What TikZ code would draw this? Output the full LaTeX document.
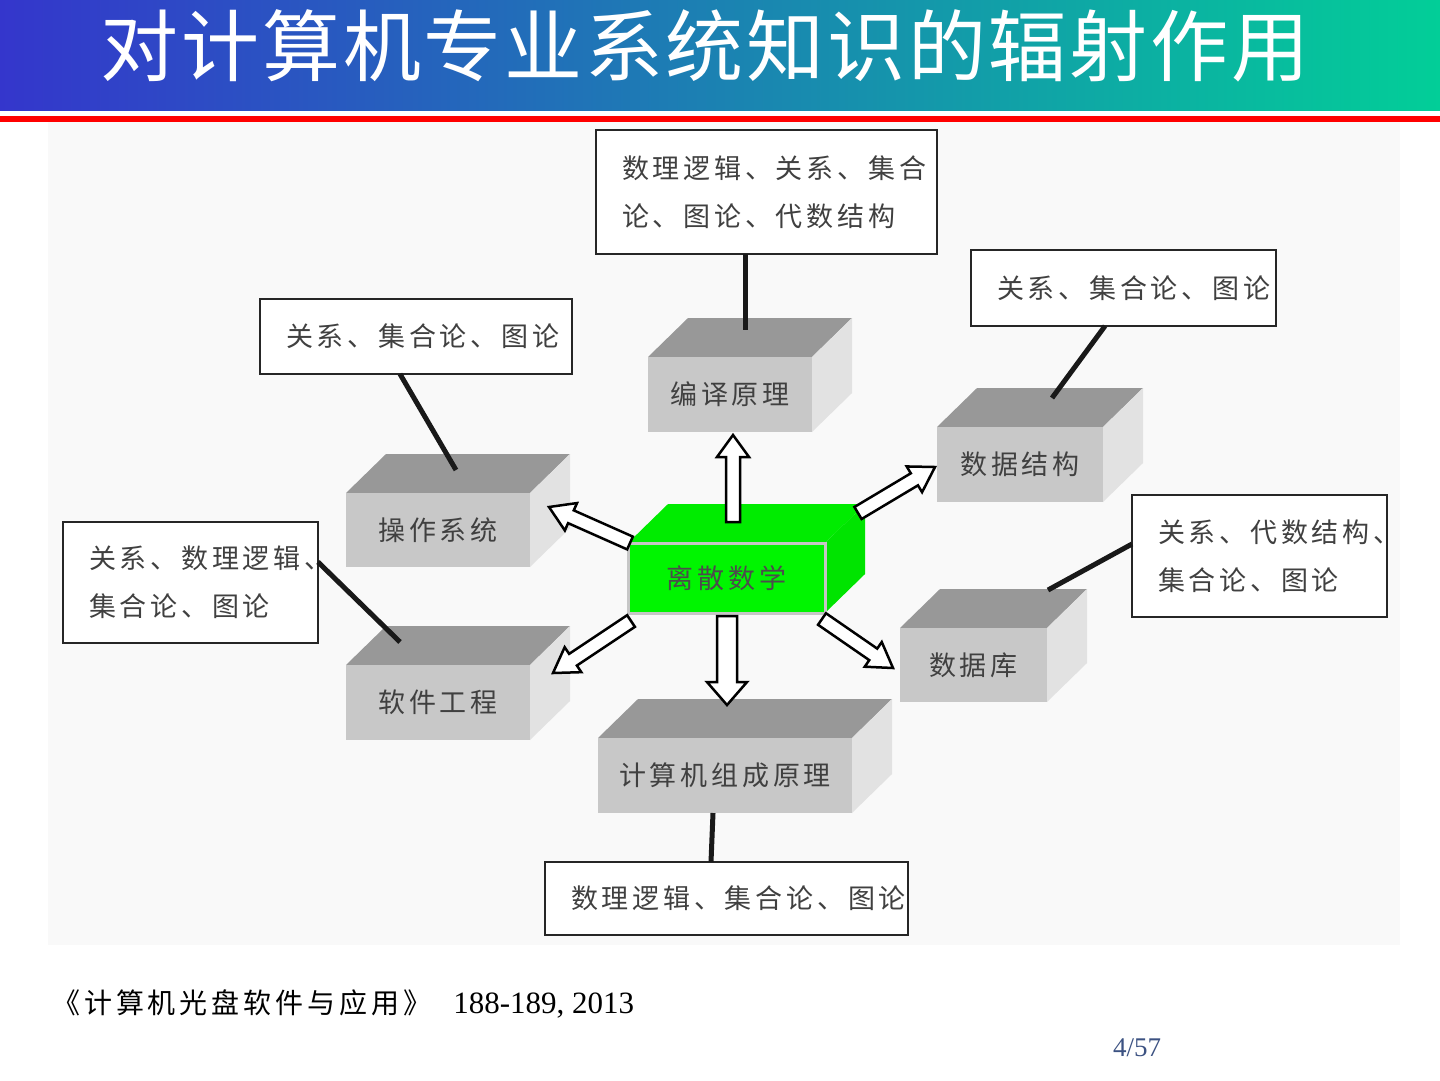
\documentclass[tikz,border=0pt]{standalone}
\usepackage{fontspec}
\setmainfont{Liberation Serif}
\newfontfamily\cjk{Noto Sans CJK SC}
\newfontfamily\cjkbox[LetterSpace=14]{Noto Sans CJK SC}
\newfontfamily\cjktitle[LetterSpace=3.5]{Noto Sans CJK SC}
\usetikzlibrary{calc}
\definecolor{titleL}{RGB}{52,54,204}
\definecolor{titleR}{RGB}{2,206,152}
\definecolor{cubeTop}{RGB}{152,152,152}
\definecolor{cubeFront}{RGB}{200,200,200}
\definecolor{cubeSide}{RGB}{226,226,226}
\definecolor{greenFront}{RGB}{0,245,0}
\definecolor{greenTop}{RGB}{0,236,0}
\definecolor{greenSide}{RGB}{0,228,0}
\definecolor{pageno}{RGB}{60,82,130}
\definecolor{panel}{RGB}{249,249,249}
\tikzset{
  link/.style={line width=5pt, draw=black!90},
  tbox/.style={draw=black!85, line width=2.5pt, fill=white, inner xsep=26pt, inner ysep=0pt,
    align=left, text=black!75, font=\cjkbox\fontsize{27}{48}\selectfont, outer sep=0pt},
  cubefront/.style={fill=cubeFront, inner sep=0pt, outer sep=0pt, text=black!75,
    font=\cjkbox\fontsize{27}{32}\selectfont},
  greenfront/.style={fill=greenFront, draw=gray!45, line width=3pt, inner sep=0pt, outer sep=0pt,
    text=black!70, font=\cjkbox\fontsize{27}{32}\selectfont},
  blockarr/.style={draw=black, fill=white, line width=2.5pt, line join=miter},
}
% text box: name, x1, y1, x2, y2, text
\newcommand\tbox[6]{%
  \pgfmathsetmacro\bw{#4-#2}\pgfmathsetmacro\bh{#5-#3}\pgfmathsetmacro\tw{#4-#2-52}%
  \node[tbox, minimum width=\bw pt, minimum height=\bh pt, text width=\tw pt] (#1)
    at ({(#2+#4)/2},{(#3+#5)/2}) {#6};}
% cube: name, x1, y1, x2, y2, top colour, side colour, front style, text
\newcommand\cubebox[9]{%
  \fill[#6] (#2,#3) -- ({#2+40},{#3-39}) -- ({#4+40},{#3-39}) -- (#4,#3) -- cycle;
  \fill[#7] (#4,#3) -- ({#4+40},{#3-39}) -- ({#4+40},{#5-39}) -- (#4,#5) -- cycle;
  \pgfmathsetmacro\cw{#4-#2}\pgfmathsetmacro\ch{#5-#3}%
  \node[#8, minimum width=\cw pt, minimum height=\ch pt] (#1) at ({(#2+#4)/2},{(#3+#5)/2}) {#9};}
% hollow block arrow: from, to, shaft half width, head half width, head length
\newcommand\blockarrow[5]{%
  \draw[blockarr] let \p1=(#1), \p2=(#2), \n1={atan2(\y2-\y1,\x2-\x1)}, \n2={veclen(\x2-\x1,\y2-\y1)} in
    ($(\p1)+({\n1+90}:#3)$) -- ($(\p1)+(\n1:{\n2-#5})+({\n1+90}:#3)$)
    -- ($(\p1)+(\n1:{\n2-#5})+({\n1+90}:#4)$) -- (\p2)
    -- ($(\p1)+(\n1:{\n2-#5})+({\n1-90}:#4)$) -- ($(\p1)+(\n1:{\n2-#5})+({\n1-90}:#3)$)
    -- ($(\p1)+({\n1-90}:#3)$) -- cycle;}
\begin{document}
\begin{tikzpicture}[x=1pt,y=-1pt]
\useasboundingbox (0,0) rectangle (1440,1080);
\fill[white] (0,0) rectangle (1440,1080);
% title bar
\shade[left color=titleL, right color=titleR] (0,0) rectangle (1440,110);
\fill[red] (0,116) rectangle (1440,122);
\node[font=\cjktitle\fontsize{78}{90}\selectfont, text=white, inner sep=0pt] (title) at (705,46)
  {对计算机专业系统知识的辐射作用};
% picture panel
\fill[panel] (48,122) rectangle (1400,945);

% text boxes
\tbox{t1}{596}{130}{937}{254}{数理逻辑、关系、集合\\论、图论、代数结构}
\tbox{t2}{260}{299}{572}{374}{关系、集合论、图论}
\tbox{t3}{971}{250}{1276}{326}{关系、集合论、图论}
\tbox{t4}{63}{522}{318}{643}{关系、数理逻辑、\\集合论、图论}
\tbox{t5}{1132}{495}{1387}{617}{关系、代数结构、\\集合论、图论}
\tbox{t6}{545}{862}{908}{935}{数理逻辑、集合论、图论}

% cubes
\cubebox{by}{648}{357}{812}{432}{cubeTop}{cubeSide}{cubefront}{编译原理}
\cubebox{cz}{346}{493}{530}{567}{cubeTop}{cubeSide}{cubefront}{操作系统}
\cubebox{sj}{937}{427}{1103}{502}{cubeTop}{cubeSide}{cubefront}{数据结构}
\cubebox{rj}{346}{665}{530}{740}{cubeTop}{cubeSide}{cubefront}{软件工程}
\cubebox{jsj}{598}{738}{852}{813}{cubeTop}{cubeSide}{cubefront}{计算机组成原理}
\cubebox{sjk}{900}{628}{1047}{702}{cubeTop}{cubeSide}{cubefront}{数据库}
\cubebox{ls}{628}{543}{825}{613}{greenTop}{greenSide}{greenfront}{离散数学}

% links from knowledge boxes to courses
\coordinate (by-link) at (745,330);
\coordinate (cz-link) at (456,470);
\coordinate (sj-link) at (1052,398);
\coordinate (rj-link) at (400,642);
\coordinate (sjk-link) at (1048,590);
\draw[link] (t1.south -| by-link) -- (by-link);
\draw[link] ($(t2.south west)+(140,0)$) -- (cz-link);
\draw[link] ($(t3.south west)+(134,0)$) -- (sj-link);
\draw[link] (t4.east |- 0,562) -- (rj-link);
\draw[link] (jsj.south -| 713,0) -- (t6.north -| 711,0);
\draw[link] (sjk-link) -- (t5.west |- 0,544);

% radiating arrows from discrete mathematics
\coordinate (ls-up) at (733,522);   \coordinate (by-in) at (733,435);
\coordinate (ls-dn) at (727,616);   \coordinate (jsj-in) at (727,705);
\coordinate (ls-ul) at (630,543);   \coordinate (cz-in) at (549,507);
\coordinate (ls-ur) at (858,513);   \coordinate (sj-in) at (935,467);
\coordinate (ls-ll) at (631,621);   \coordinate (rj-in) at (553,673);
\coordinate (ls-lr) at (822,619);   \coordinate (sjk-in) at (893,668);
\blockarrow{ls-up}{by-in}{7pt}{16pt}{22pt}
\blockarrow{ls-dn}{jsj-in}{10pt}{20pt}{23pt}
\blockarrow{ls-ul}{cz-in}{7pt}{15pt}{24pt}
\blockarrow{ls-ur}{sj-in}{7pt}{15pt}{24pt}
\blockarrow{ls-ll}{rj-in}{7pt}{15pt}{24pt}
\blockarrow{ls-lr}{sjk-in}{7pt}{15pt}{24pt}

% footer
\node[anchor=base west, inner sep=0pt, font=\fontsize{31}{36}\selectfont] (ref) at (52,1013)
  {{\cjkbox\fontsize{28}{36}\selectfont 《计算机光盘软件与应用》}\hspace{22pt}188-189, 2013};
\node[anchor=base west, inner sep=0pt, text=pageno, font=\fontsize{27}{32}\selectfont] (pg) at (1113,1056) {4/57};
\end{tikzpicture}
\end{document}
